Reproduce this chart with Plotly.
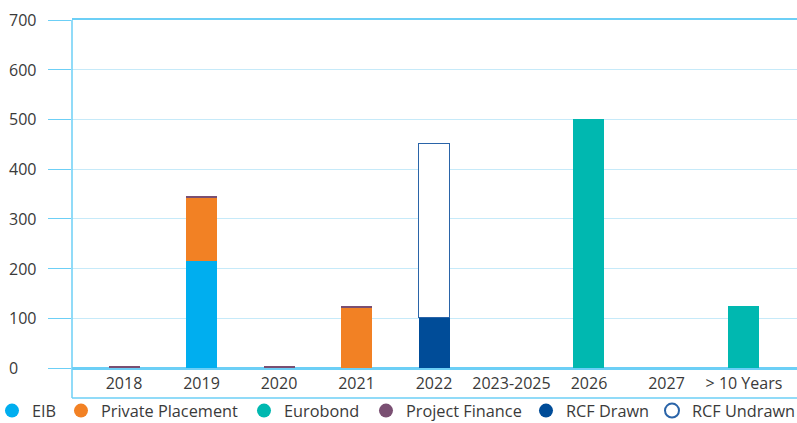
import plotly.graph_objects as go

categories = ["2018", "2019", "2020", "2021", "2022", "2023-2025", "2026", "2027", "> 10 Years"]
eib = [0, 215, 0, 0, 0, 0, 0, 0, 0]
private_placement = [0, 127, 0, 121, 0, 0, 0, 0, 0]
eurobond = [0, 0, 0, 0, 0, 0, 500, 0, 125]
project_finance = [3, 4, 3, 4, 0, 0, 0, 0, 0]
rcf_drawn = [0, 0, 0, 0, 102, 0, 0, 0, 0]
rcf_undrawn = [0, 0, 0, 0, 350, 0, 0, 0, 0]
y_ticks = [0, 100, 200, 300, 400, 500, 600, 700]

C_EIB = "#00AEEF"
C_PP = "#F28124"
C_EURO = "#00B8B0"
C_PF = "#7A4F72"
C_DRAWN = "#004C98"
C_UNDRAWN = "#2A64A8"
AXIS = "#6CCFF6"
GRID = "#C6EAF9"
TXT = "#3a3a3a"
FONT = "Open Sans"

W, H = 797, 423
ml, mr, mt, mb = 72, 0, 20, 55
ph = H - mt - mb
pw = W - ml - mr


def nz(vals):
    return [v if v else None for v in vals]


fig = go.Figure()
series = [
    ("EIB", eib, C_EIB),
    ("Private Placement", private_placement, C_PP),
    ("Eurobond", eurobond, C_EURO),
    ("Project Finance", project_finance, C_PF),
    ("RCF Drawn", rcf_drawn, C_DRAWN),
]
for name, vals, col in series:
    fig.add_trace(go.Bar(x=categories, y=nz(vals), name=name,
                         marker=dict(color=col, line=dict(width=0)), showlegend=False))
fig.add_trace(go.Bar(x=categories, y=nz(rcf_undrawn), name="RCF Undrawn",
                     marker=dict(color="white", line=dict(color=C_UNDRAWN, width=1.5)),
                     showlegend=False))

# legend entries (circle markers), each in its own legend box placed like the reference
legend_text_px = [31, 100, 283, 405, 565, 691]
legend_names = ["legend", "legend2", "legend3", "legend4", "legend5", "legend6"]
entries = [(n, c, "circle") for n, _, c in series] + [("RCF Undrawn", C_UNDRAWN, "circle-open")]
legend_layout = {}
for (name, col, sym), lg, tx in zip(entries, legend_names, legend_text_px):
    fig.add_trace(go.Scatter(x=[None], y=[None], mode="markers", name=name, legend=lg,
                             marker=dict(symbol=sym, size=14, color=col,
                                         line=dict(width=2 if sym == "circle-open" else 0, color=col))))
    legend_layout[lg] = dict(orientation="h", x=(tx - 39 - ml) / pw, xanchor="left",
                             y=-(411 - (H - mb)) / ph, yanchor="middle",
                             font=dict(family=FONT, size=16.3, color=TXT),
                             bgcolor="rgba(0,0,0,0)", borderwidth=0, itemclick=False)

for v in y_ticks:
    fig.add_annotation(x=(7 - ml) / pw, xref="paper", y=v, yref="y", text=str(v),
                       showarrow=False, xanchor="left", yanchor="middle",
                       font=dict(family=FONT, size=16, color=TXT))

frame_y = -(398 - (H - mb)) / ph
fig.add_shape(type="line", xref="paper", yref="paper", x0=0, x1=0, y0=frame_y, y1=1,
              line=dict(color=AXIS, width=1.5))
fig.add_shape(type="line", xref="paper", yref="paper", x0=0, x1=1, y0=frame_y, y1=frame_y,
              line=dict(color=AXIS, width=1.5))

fig.update_layout(
    width=W, height=H,
    margin=dict(l=ml, r=mr, t=mt, b=mb, autoexpand=False),
    barmode="stack", bargap=0.6,
    plot_bgcolor="white", paper_bgcolor="white",
    font=dict(family=FONT, size=16, color=TXT),
    xaxis=dict(type="category", range=[-0.671, 8.684], showgrid=False, ticks="",
               showline=True, mirror=True, linecolor=AXIS, linewidth=1.5,
               tickfont=dict(family=FONT, size=16, color=TXT), zeroline=False),
    yaxis=dict(range=[0, 700], tickvals=y_ticks, showticklabels=False, ticks="outside",
               ticklen=23, tickcolor=AXIS, tickwidth=1, gridcolor=GRID, gridwidth=1,
               zeroline=True, zerolinecolor=AXIS, zerolinewidth=1.5, showline=False),
    showlegend=True,
    **legend_layout,
)

fig.write_html("out.html", config={"displayModeBar": False},
               post_script="document.body.style.margin='0';")
